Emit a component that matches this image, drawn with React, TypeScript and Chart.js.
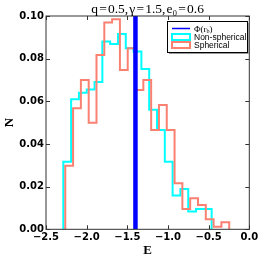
import React, { useEffect, useRef } from "react";
import { Chart, registerables } from "chart.js";

Chart.register(...registerables);

// ---- data ----
const binWidth = 0.096;
const nonSphericalStart = -2.287;
const sphericalStart = -2.263;
const nonSphericalValues = [
  0.0317, 0.061, 0.064, 0.0656, 0.069, 0.088, 0.0869, 0.0916, 0.0849, 0.0833,
  0.0752, 0.056, 0.0466, 0.0317, 0.0158, 0.0189, 0.0083, 0.0095, 0.0095,
];
const sphericalValues = [
  0.0298, 0.0567, 0.07, 0.05, 0.0817, 0.0969, 0.0985, 0.0747, 0.0849, 0.0653,
  0.07, 0.0465, 0.0583, 0.0465, 0.0216, 0.0095, 0.0145, 0.0114, 0.0047, 0.0012,
  0.0033,
];
const phiRb = -1.4;
const xTicks = [-2.5, -2.0, -1.5, -1.0, -0.5, 0.0];
const yTicks = [0.0, 0.02, 0.04, 0.06, 0.08, 0.1];
const xRange = [-2.5, 0.0];
const yRange = [0.0, 0.1];
const titleText = "q\u200a=\u200a0.5,\u200a\u03b3\u200a=\u200a1.5,\u200ae\u2080\u200a=\u200a0.6";
const xLabel = "E";
const yLabel = "N";
const legendLabels = ["\u03a6(r", "Non-spherical", "Spherical"];

const CYAN = "#00ffff";
const SALMON = "#fa8072";
const BLUE = "#0000ff";

function stepPoints(start: number, width: number, values: number[]) {
  const pts: { x: number; y: number }[] = [{ x: start, y: 0 }];
  values.forEach((v, i) => pts.push({ x: start + i * width, y: v }));
  pts.push({ x: start + values.length * width, y: 0 });
  return pts;
}

const fmtMinus = (s: string) => s.replace("-", "\u2212");

const decorPlugin = {
  id: "decor",
  afterDraw(chart: any) {
    const ctx: CanvasRenderingContext2D = chart.ctx;
    const a = chart.chartArea;
    const xs = chart.scales.x;
    const ys = chart.scales.y;
    ctx.save();
    // frame
    ctx.strokeStyle = "#333";
    ctx.lineWidth = 1;
    ctx.strokeRect(a.left, a.top, a.right - a.left, a.bottom - a.top);
    // inward ticks
    ctx.beginPath();
    xTicks.forEach((v) => {
      const p = Math.round(xs.getPixelForValue(v)) + 0.5;
      ctx.moveTo(p, a.bottom);
      ctx.lineTo(p, a.bottom - 4);
      ctx.moveTo(p, a.top);
      ctx.lineTo(p, a.top + 4);
    });
    yTicks.forEach((v) => {
      const p = Math.round(ys.getPixelForValue(v)) + 0.5;
      ctx.moveTo(a.left, p);
      ctx.lineTo(a.left + 4, p);
      ctx.moveTo(a.right, p);
      ctx.lineTo(a.right - 4, p);
    });
    ctx.stroke();

    // title
    ctx.fillStyle = "#000";
    ctx.font = "13.5px 'Liberation Serif'";
    ctx.textAlign = "center";
    ctx.textBaseline = "alphabetic";
    ctx.fillText(titleText, (a.left + a.right) / 2, 13);

    // axis labels
    ctx.font = "bold 13px 'Liberation Serif'";
    ctx.textBaseline = "middle";
    ctx.fillText(xLabel, (a.left + a.right) / 2, 251);
    ctx.save();
    ctx.translate(10, (a.top + a.bottom) / 2);
    ctx.rotate(-Math.PI / 2);
    ctx.fillText(yLabel, 0, 0);
    ctx.restore();

    // legend
    const lx = 167, ly = 21, lw = 80, lh = 31;
    ctx.fillStyle = "#999";
    ctx.fillRect(lx + 2, ly + 2, lw, lh);
    ctx.fillStyle = "#fff";
    ctx.fillRect(lx, ly, lw, lh);
    ctx.strokeStyle = "#000";
    ctx.lineWidth = 1;
    ctx.strokeRect(lx + 0.5, ly + 0.5, lw, lh);

    const hx0 = 172, hx1 = 190;
    ctx.strokeStyle = BLUE;
    ctx.lineWidth = 1.5;
    ctx.beginPath();
    ctx.moveTo(hx0, 28.5);
    ctx.lineTo(hx1, 28.5);
    ctx.stroke();

    ctx.lineWidth = 2;
    ctx.strokeStyle = CYAN;
    ctx.strokeRect(hx0, 34, hx1 - hx0, 6);
    ctx.strokeStyle = SALMON;
    ctx.strokeRect(hx0, 42, hx1 - hx0, 6);

    ctx.fillStyle = "#000";
    ctx.textAlign = "left";
    ctx.textBaseline = "alphabetic";
    ctx.font = "9px 'Liberation Serif'";
    ctx.fillText(legendLabels[0], 194, 31.5);
    const w = ctx.measureText(legendLabels[0]).width;
    ctx.font = "6px 'Liberation Serif'";
    ctx.fillText("b", 194 + w, 33);
    const wb = ctx.measureText("b").width;
    ctx.font = "9px 'Liberation Serif'";
    ctx.fillText(")", 194 + w + wb, 31.5);

    ctx.font = "8.5px 'Liberation Sans'";
    ctx.fillText(legendLabels[1], 194, 40);
    ctx.fillText(legendLabels[2], 194, 47.8);
    ctx.restore();
  },
};

export default function App() {
  const ref = useRef<HTMLCanvasElement>(null);
  useEffect(() => {
    document.body.style.margin = "0";
    const tickFont = { family: "'DejaVu Sans'", size: 10, weight: "bold" as const };
    const chart = new Chart(ref.current!, {
      type: "line",
      data: {
        datasets: [
          {
            label: "phi",
            data: [
              { x: phiRb, y: yRange[0] },
              { x: phiRb, y: yRange[1] },
            ],
            borderColor: BLUE,
            borderWidth: 4.5,
            borderCapStyle: "butt",
            pointRadius: 0,
            order: 0,
          },
          {
            label: "Spherical",
            data: stepPoints(sphericalStart, binWidth, sphericalValues),
            borderColor: SALMON,
            borderWidth: 2,
            stepped: "before",
            pointRadius: 0,
            borderJoinStyle: "miter",
            order: 1,
          },
          {
            label: "Non-spherical",
            data: stepPoints(nonSphericalStart, binWidth, nonSphericalValues),
            borderColor: CYAN,
            borderWidth: 2,
            stepped: "before",
            pointRadius: 0,
            borderJoinStyle: "miter",
            order: 2,
          },
        ],
      },
      options: {
        animation: false,
        responsive: true,
        maintainAspectRatio: false,
        devicePixelRatio: 1,
        layout: { padding: { top: 16, right: 13.7, left: 0, bottom: 0 } },
        plugins: {
          legend: { display: false },
          tooltip: { enabled: false },
          title: { display: false },
        },
        scales: {
          x: {
            type: "linear",
            min: xRange[0],
            max: xRange[1],
            grid: { display: false, drawTicks: false, tickLength: 0 },
            border: { display: false },
            afterBuildTicks: (s: any) => {
              s.ticks = xTicks.map((v) => ({ value: v }));
            },
            afterFit: (s: any) => {
              s.height = 33.7;
            },
            ticks: {
              autoSkip: false,
              maxRotation: 0,
              padding: 2,
              color: "#000",
              font: tickFont,
              callback: (v: any) => fmtMinus(Number(v).toFixed(1)),
            },
          },
          y: {
            type: "linear",
            min: yRange[0],
            max: yRange[1],
            grid: { display: false, drawTicks: false, tickLength: 0 },
            border: { display: false },
            afterBuildTicks: (s: any) => {
              s.ticks = yTicks.map((v) => ({ value: v }));
            },
            afterFit: (s: any) => {
              s.width = 46;
            },
            ticks: {
              padding: 2,
              color: "#000",
              font: tickFont,
              callback: (v: any) => Number(v).toFixed(2),
            },
          },
        },
      },
      plugins: [decorPlugin],
    });
    return () => chart.destroy();
  }, []);
  return (
    <div style={{ position: "fixed", left: 0, top: 0, width: 263, height: 263, background: "#fff" }}>
      <canvas ref={ref} />
    </div>
  );
}
